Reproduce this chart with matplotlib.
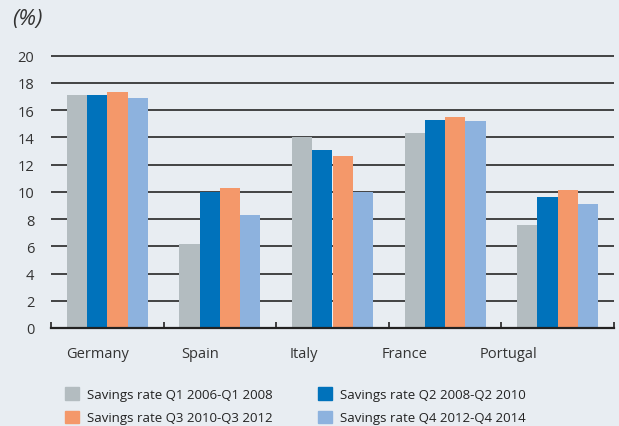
import numpy as np
import matplotlib.pyplot as plt
from matplotlib.patches import Patch

plt.rcParams['font.family'] = ['Open Sans', 'DejaVu Sans']

countries = ['Germany', 'Spain', 'Italy', 'France', 'Portugal']
series = ['Savings rate Q1 2006-Q1 2008', 'Savings rate Q2 2008-Q2 2010',
          'Savings rate Q3 2010-Q3 2012', 'Savings rate Q4 2012-Q4 2014']
q1_06_08 = [17.1, 6.2, 14.0, 14.3, 7.6]
q2_08_10 = [17.1, 10.0, 13.1, 15.3, 9.6]
q3_10_12 = [17.3, 10.3, 12.6, 15.5, 10.1]
q4_12_14 = [16.9, 8.3, 10.0, 15.2, 9.1]
values = [q1_06_08, q2_08_10, q3_10_12, q4_12_14]
colors = ['#b3bcc0', '#0072bb', '#f4986a', '#8db2de']
bg = '#e8edf2'

fig = plt.figure(figsize=(6.19, 4.27), dpi=100, facecolor=bg)
ax = fig.add_axes([51/619, 1 - 329/427, 563/619, 273/427], facecolor=bg)

x = np.arange(len(countries))
w = 0.18
for i, vals in enumerate(values):
    ax.bar(x + (i - 1.5) * w, vals, w, color=colors[i], zorder=3)

ax.set_xlim(-0.5, 4.5)
ax.set_ylim(0, 20.05)
ax.set_yticks(np.arange(0, 21, 2))
ax.yaxis.grid(True, color='#262626', linewidth=1.2, zorder=0)
ax.set_axisbelow(True)
for s in ['top', 'right', 'left']:
    ax.spines[s].set_visible(False)
ax.spines['bottom'].set_linewidth(1.6)
ax.spines['bottom'].set_color('#222222')
ax.spines['bottom'].set_zorder(4)

# the category labels in the original sit a little left of their groups
label_shift = np.array([0.09, 0.18, 0.25, 0.36, 0.44])
ax.set_xticks(x - label_shift)
ax.set_xticklabels(countries)
ax.set_xticks(np.arange(-0.5, 5, 1), minor=True)
ax.tick_params(axis='x', which='major', length=0, pad=13, labelsize=10.5, labelcolor='#333333')
ax.tick_params(axis='x', which='minor', direction='in', length=4, width=1.2, color='#222222')
ax.tick_params(axis='y', length=0, pad=12, labelsize=10.5, labelcolor='#333333')

fig.text(12/619, 1 - 19/427, '(%)', fontsize=16, style='italic', color='#333333', va='center')

handles = [Patch(color=c) for c in colors]
order = [0, 2, 1, 3]
fig.legend([handles[i] for i in order], [series[i] for i in order], ncol=2,
           loc='upper left', bbox_to_anchor=(53/619, 1 - 376/427), frameon=False,
           fontsize=9.5, handlelength=1.1, handleheight=1.1, handletextpad=0.55,
           columnspacing=3.45, labelspacing=0.75, labelcolor='#222222')

fig.savefig('out.png', dpi=100, facecolor=bg)
